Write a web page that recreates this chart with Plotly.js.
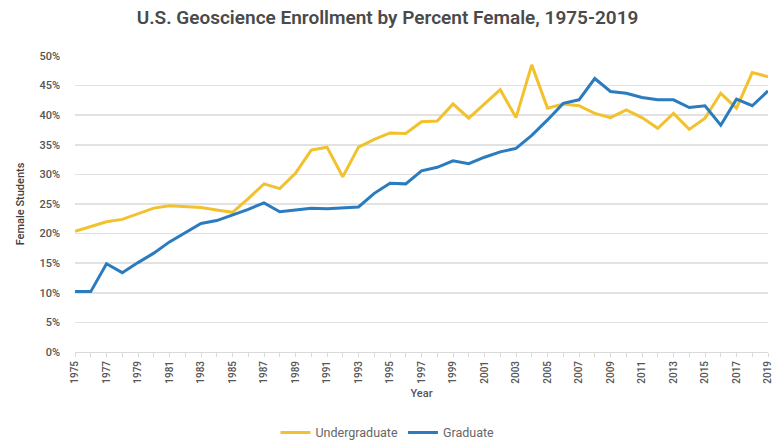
<!DOCTYPE html>
<html>
<head>
<meta charset="utf-8">
<script src="https://cdn.plot.ly/plotly-3.0.1.min.js"></script>
<style>html,body{margin:0;padding:0;background:#fff;}#chart{width:775px;height:445px;}</style>
</head>
<body>
<div id="chart"></div>
<script>
const years = [1975,1976,1977,1978,1979,1980,1981,1982,1983,1984,1985,1986,1987,1988,1989,1990,1991,1992,1993,1994,1995,1996,1997,1998,1999,2000,2001,2002,2003,2004,2005,2006,2007,2008,2009,2010,2011,2012,2013,2014,2015,2016,2017,2018,2019];
const undergraduate = [20.4,21.2,22.0,22.4,23.4,24.3,24.7,24.6,24.4,24.0,23.6,25.9,28.4,27.6,30.2,34.1,34.6,29.6,34.6,35.9,37.0,36.9,38.9,39.0,41.9,39.5,41.9,44.3,39.6,48.5,41.2,41.9,41.6,40.3,39.6,40.9,39.6,37.8,40.3,37.6,39.5,43.7,41.2,47.2,46.5];
const graduate = [10.2,10.2,14.9,13.4,15.1,16.7,18.6,20.2,21.7,22.2,23.1,24.1,25.2,23.7,24.0,24.3,24.2,24.3,24.5,26.8,28.5,28.4,30.6,31.2,32.3,31.8,32.9,33.8,34.4,36.6,39.2,42.0,42.6,46.2,44.0,43.7,43.0,42.6,42.6,41.3,41.6,38.3,42.7,41.6,44.1];
const xTickYears = [1975,1977,1979,1981,1983,1985,1987,1989,1991,1993,1995,1997,1999,2001,2003,2005,2007,2009,2011,2013,2015,2017,2019];
const yTicks = [0,5,10,15,20,25,30,35,40,45,50];
const seriesNames = ["Undergraduate","Graduate"];

const traces = [
  {x: years, y: undergraduate, name: seriesNames[0], type: 'scatter', mode: 'lines',
   line: {color: '#F2C12E', width: 3}},
  {x: years, y: graduate, name: seriesNames[1], type: 'scatter', mode: 'lines',
   line: {color: '#2B7BBF', width: 3}}
];

const layout = {
  width: 775, height: 445,
  margin: {l: 75, r: 7, t: 56, b: 93},
  paper_bgcolor: '#ffffff', plot_bgcolor: '#ffffff',
  font: {family: 'Roboto, "Open Sans", sans-serif', color: '#595959', size: 11},
  title: {text: 'U.S. Geoscience Enrollment by Percent Female, 1975-2019',
          font: {size: 19, color: '#4a4a4a', family: 'Roboto, sans-serif', weight: 600},
          x: 0.5, xref: 'container', xanchor: 'center', y: 0.962, yref: 'container', yanchor: 'middle'},
  xaxis: {
    range: [1975, 2019], tickvals: xTickYears, ticktext: xTickYears.map(String),
    tickangle: -90, tickfont: {size: 10, color: '#555555', weight: 500},
    showgrid: false, zeroline: false,
    showline: true, linecolor: '#d9d9d9', linewidth: 1,
    ticks: 'outside', ticklen: 4, tickcolor: '#d9d9d9',
    minor: {ticks: 'outside', dtick: 1, tick0: 1975, ticklen: 4, tickcolor: '#d9d9d9', showgrid: false},
    title: {text: 'Year', font: {size: 11, color: '#555555', weight: 500}, standoff: 6}
  },
  yaxis: {
    range: [0, 50], tickvals: yTicks, ticktext: yTicks.map(v => v + '%'),
    tickfont: {size: 11, color: '#555555', weight: 500},
    showgrid: true, gridcolor: '#e2e2e2', gridwidth: 1.5, zeroline: false,
    showline: false, ticks: '', ticklabelstandoff: 14,
    title: {text: 'Female Students', font: {size: 11, color: '#404040', weight: 500}, standoff: 12}
  },
  showlegend: true,
  legend: {orientation: 'h', x: 0.5, xref: 'container', xanchor: 'center',
           y: 0.027, yref: 'container', yanchor: 'middle',
           font: {size: 12.5, color: '#666666'}, traceorder: 'normal', itemwidth: 30}
};

Plotly.newPlot('chart', traces, layout, {displayModeBar: false, staticPlot: true});
</script>
</body>
</html>
